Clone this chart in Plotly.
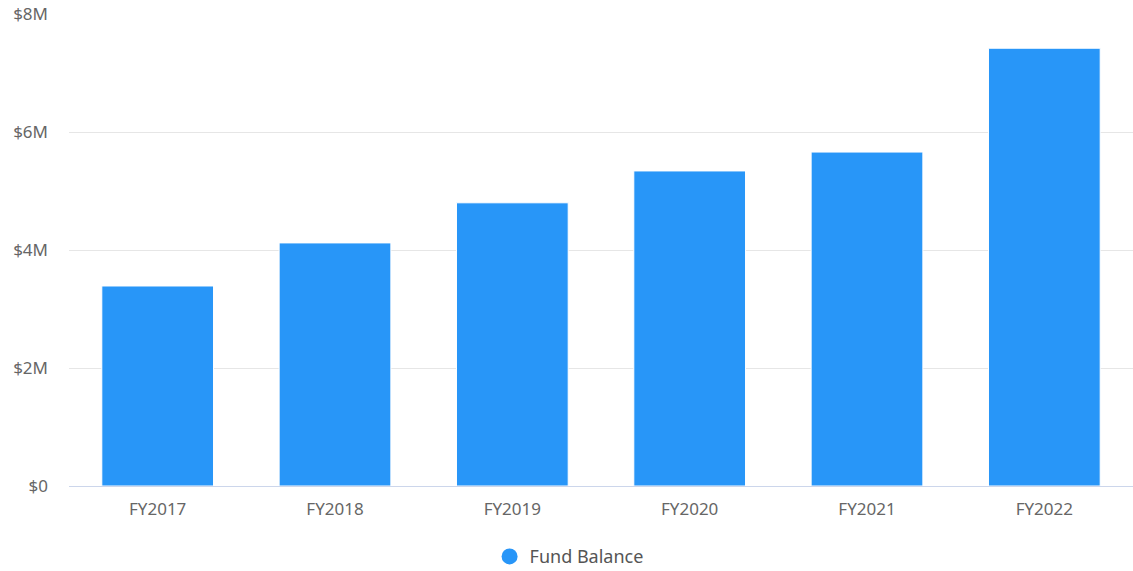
import plotly.graph_objects as go

# Fund balance by fiscal year (USD)
fiscal_years = ["FY2017", "FY2018", "FY2019", "FY2020", "FY2021", "FY2022"]
fund_balance = [3390000, 4120000, 4800000, 5340000, 5660000, 7420000]

y_tick_values = [0, 2000000, 4000000, 6000000, 8000000]
y_tick_labels = ["$0", "$2M", "$4M", "$6M", "$8M"]

BAR_COLOR = "#2896f8"
TEXT_COLOR = "#666666"
FONT = "Noto Sans, Lato, sans-serif"

fig = go.Figure()

fig.add_trace(go.Bar(
    x=fiscal_years,
    y=fund_balance,
    name="Fund Balance",
    marker=dict(color=BAR_COLOR, line=dict(color="#ffffff", width=1)),
    showlegend=False,
    hovertemplate="%{x}: $%{y:,.0f}<extra></extra>",
))

# Legend entry with a round swatch
fig.add_trace(go.Scatter(
    x=[None], y=[None],
    mode="markers",
    name="Fund Balance",
    marker=dict(color=BAR_COLOR, size=18, symbol="circle"),
    showlegend=True,
))

fig.update_layout(
    width=1133,
    height=571,
    margin=dict(l=69, r=0, t=14, b=85, autoexpand=False),
    paper_bgcolor="#ffffff",
    plot_bgcolor="#ffffff",
    font=dict(family=FONT, size=17, color=TEXT_COLOR),
    bargap=0.37,
    legend=dict(
        orientation="h",
        x=0.47, xanchor="center",
        yref="container",
        y=0.025, yanchor="middle",
        font=dict(family=FONT, size=18, color="#555555"),
        itemsizing="trace",
    ),
    xaxis=dict(
        showgrid=False,
        showline=True,
        linecolor="#ccd6eb",
        linewidth=1,
        ticks="",
        ticklabelstandoff=8,
        automargin=False,
        tickfont=dict(family=FONT, size=17, color=TEXT_COLOR),
        fixedrange=True,
    ),
    yaxis=dict(
        range=[0, 8000000],
        tickvals=y_tick_values,
        ticktext=y_tick_labels,
        showgrid=True,
        gridcolor="#e6e6e6",
        gridwidth=1,
        zeroline=False,
        showline=False,
        ticks="",
        ticklabelstandoff=20,
        automargin=False,
        tickfont=dict(family=FONT, size=17, color=TEXT_COLOR),
        fixedrange=True,
    ),
)

fig.write_html("out.html")
